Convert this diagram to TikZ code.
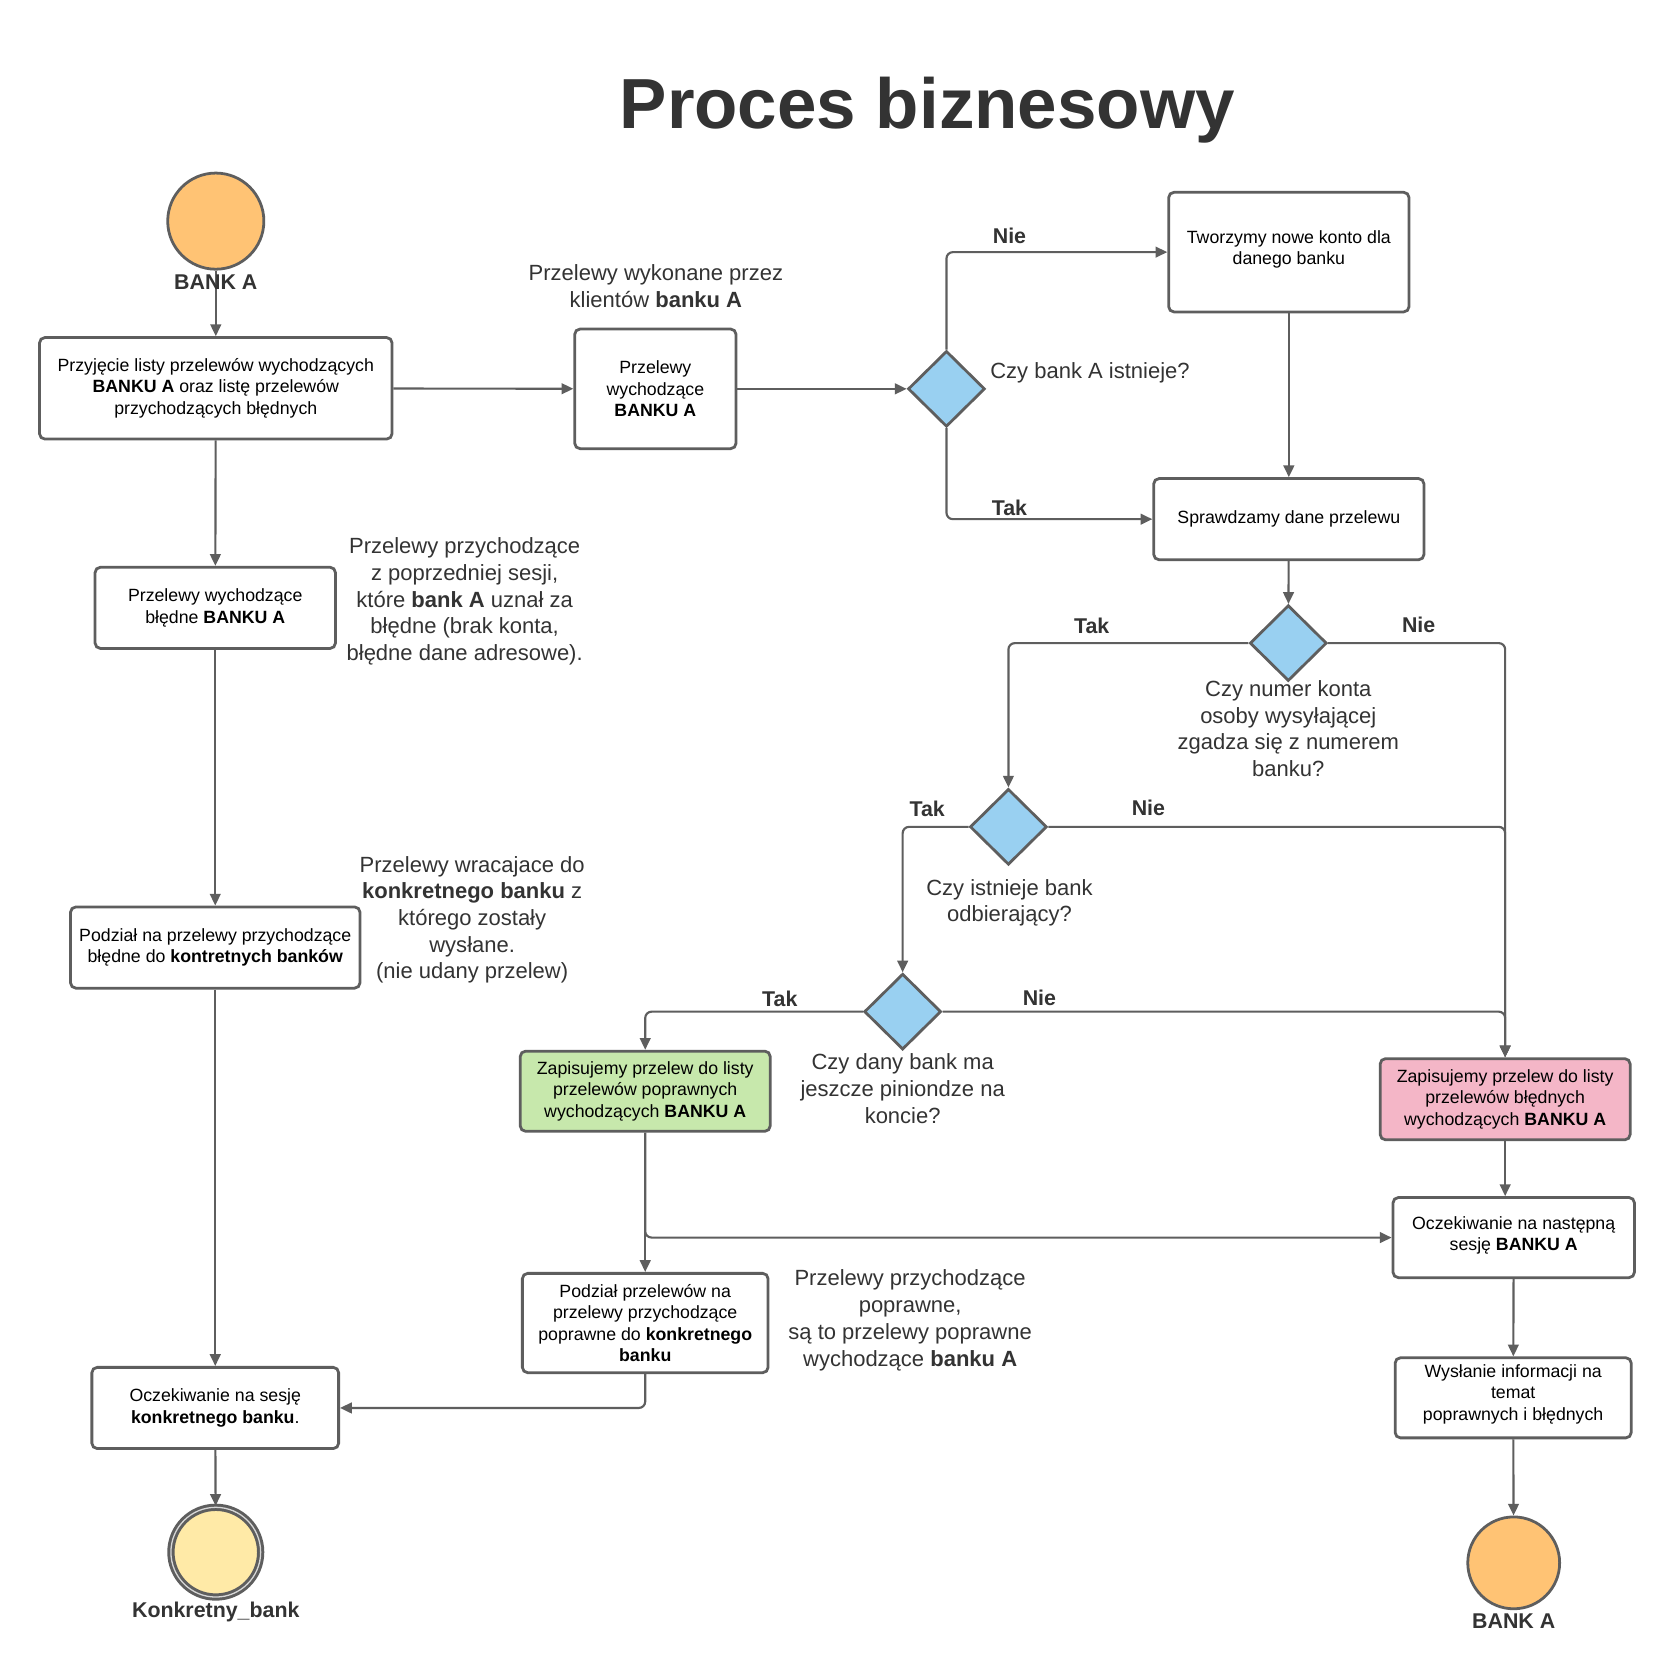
\documentclass[tikz,border=0pt]{standalone}
\usepackage{fontspec}
\setmainfont{Liberation Sans}
\usetikzlibrary{shapes.geometric,arrows.meta}
\definecolor{ln}{HTML}{5E5E5E}
\definecolor{tc}{HTML}{333333}
\definecolor{diafill}{HTML}{99D0F1}
\definecolor{orangefill}{HTML}{FFC374}
\definecolor{yellowfill}{HTML}{FFEAA7}
\definecolor{greenfill}{HTML}{C7E8AC}
\definecolor{pinkfill}{HTML}{F4B6C7}
\begin{document}
\begin{tikzpicture}[x=0.5pt,y=-0.5pt,
  boxst/.style={draw=ln,line width=1.3pt,rounded corners=2.5pt,fill=white,align=center,inner sep=0pt,font=\fontsize{8.3}{10.1}\selectfont,text=black},
  dia/.style={diamond,draw=ln,line width=1.3pt,fill=diafill,minimum width=36pt,minimum height=35.5pt,inner sep=0pt},
  conn/.style={draw=ln,line width=1pt,-{Triangle[length=5.5pt,width=5pt]}},
  lbl/.style={font=\bfseries\fontsize{10}{12}\selectfont,text=tc},
  note/.style={font=\fontsize{10.3}{12.5}\selectfont,text=tc,align=center},
  evt/.style={circle,draw=ln,line width=1.3pt,inner sep=0pt}]
\useasboundingbox[fill=white] (0,0) rectangle (1568,1565);

% title
\node[font=\bfseries\fontsize{33.2}{38}\selectfont,text=tc] (title) at (868,103) {Proces biznesowy};

% events
\node[evt,fill=orangefill,minimum size=45pt] (start) at (202,207) {};
\node[evt,fill=yellowfill,minimum size=42pt,line width=1.4pt,double=white!75!ln,double distance=0.6pt] (endk) at (202,1453) {};
\node[evt,fill=orangefill,minimum size=43pt] (enda) at (1417,1463) {};

% boxes
\node[boxst,minimum width=165pt,minimum height=47.5pt] (b1) at (202,363.5) {Przyjęcie listy przelewów wychodzących\\\textbf{BANKU A} oraz listę przelewów\\przychodzących błędnych};
\node[boxst,minimum width=75.5pt,minimum height=56pt] (b2) at (613.5,364) {Przelewy\\wychodzące\\\textbf{BANKU A}};
\node[boxst,minimum width=112.5pt,minimum height=56pt] (b3) at (1206.5,236) {Tworzymy nowe konto dla\\danego banku\\[-6pt]};
\node[boxst,minimum width=126.5pt,minimum height=38pt] (b4) at (1206.5,486) {Sprawdzamy dane przelewu};
\node[boxst,minimum width=112.5pt,minimum height=38pt] (bbl) at (201.5,569) {Przelewy wychodzące\\błędne \textbf{BANKU A}};
\node[boxst,minimum width=135.5pt,minimum height=38pt] (bpod1) at (201.5,887) {Podział na przelewy przychodzące\\błędne do \textbf{kontretnych banków}};
\node[boxst,minimum width=115.5pt,minimum height=38pt] (bses) at (201.5,1318) {Oczekiwanie na sesję\\\textbf{konkretnego banku}.};
\node[boxst,fill=greenfill,minimum width=117pt,minimum height=37.5pt] (bgr) at (604,1021.5) {Zapisujemy przelew do listy\\przelewów poprawnych\\wychodzących \textbf{BANKU A}};
\node[boxst,minimum width=115pt,minimum height=46.5pt] (bpod2) at (604,1238.5) {Podział przelewów na\\przelewy przychodzące\\poprawne do \textbf{konkretnego}\\\textbf{banku}};
\node[boxst,fill=pinkfill,minimum width=117pt,minimum height=38pt] (bpk) at (1409,1029) {Zapisujemy przelew do listy\\przelewów błędnych\\wychodzących \textbf{BANKU A}};
\node[boxst,minimum width=113pt,minimum height=37.5pt] (bnx) at (1417,1158.5) {Oczekiwanie na następną\\sesję \textbf{BANKU A}\\[-6.5pt]};
\node[boxst,minimum width=110.5pt,minimum height=37.5pt] (bws) at (1416.5,1308.5) {Wysłanie informacji na\\temat\\poprawnych i błędnych\\[-5pt]};

% decisions
\node[dia] (d1) at (886,364) {};
\node[dia] (d2) at (1206,602) {};
\node[dia] (d3) at (944,774) {};
\node[dia] (d4) at (845,947) {};

% connectors
\draw[conn] (start) -- (b1);
\draw[conn] (b1) -- (b2);
\draw[conn] (b2) -- (d1);
\draw[conn,rounded corners=3pt] (d1.north) |- (b3.west);
\draw[conn,rounded corners=3pt] (d1.south) |- (b4.west);
\draw[conn] (b3) -- (b4);
\draw[conn] (b4) -- (d2);
\draw[conn,rounded corners=3pt] (d2.west) -| (d3.north);
\draw[conn,rounded corners=3pt] (d2.east) -| (bpk.north);
\draw[conn,rounded corners=3pt] (d3.east) -| (bpk.north);
\draw[conn,rounded corners=3pt] (d3.west) -| (d4.north);
\draw[conn,rounded corners=3pt] (d4.east) -| (bpk.north);
\draw[conn,rounded corners=3pt] (d4.west) -| (bgr.north);
\draw[conn] (bgr) -- (bpod2);
\draw[conn,rounded corners=3pt] (bgr.south) |- (bnx.west);
\draw[conn,rounded corners=3pt] (bpod2.south) |- (bses.east);
\draw[conn] (bpk.south) -- (bpk.south |- bnx.north);
\draw[conn] (bnx) -- (bws);
\draw[conn] (bws) -- (enda);
\draw[conn] (b1) -- (bbl);
\draw[conn] (bbl) -- (bpod1);
\draw[conn] (bpod1) -- (bses);
\draw[conn] (bses) -- (endk);

% event labels
\node[lbl] (lstart) at (202,264) {BANK A};
\node[lbl] (lendk) at (202,1509) {Konkretny\_bank};
\node[lbl] (lenda) at (1417,1518) {BANK A};

% branch labels
\node[lbl] (l1n) at (945,221) {Nie};
\node[lbl] (l1t) at (945,475) {Tak};
\node[lbl] (l2t) at (1022,586) {Tak};
\node[lbl] (l2n) at (1328,585) {Nie};
\node[lbl] (l3t) at (868,757) {Tak};
\node[lbl] (l3n) at (1075,756) {Nie};
\node[lbl] (l4t) at (730,935) {Tak};
\node[lbl] (l4n) at (973,934) {Nie};

% decision texts
\node[note,anchor=west] (q1) at (920,349) {Czy bank A istnieje?};
\node[note] (q2) at (1206,682) {Czy numer konta\\osoby wysyłającej\\zgadza się z numerem\\banku?};
\node[note] (q3) at (945,845) {Czy istnieje bank\\odbierający?};
\node[note] (q4) at (845,1019) {Czy dany bank ma\\jeszcze piniondze na\\koncie?};

% annotations
\node[note] (n1) at (614,268) {Przelewy wykonane przez\\klientów \textbf{banku A}};
\node[note] (n2) at (435,563) {Przelewy przychodzące\\z poprzedniej sesji,\\które \textbf{bank A} uznał za\\błędne (brak konta,\\błędne dane adresowe).};
\node[note] (n3) at (442,861) {Przelewy wracajace do\\\textbf{konkretnego banku} z\\którego zostały\\wysłane.\\(nie udany przelew)};
\node[note] (n4) at (852,1236) {Przelewy przychodzące\\poprawne,\\są to przelewy poprawne\\wychodzące \textbf{banku A}};
\end{tikzpicture}
\end{document}
